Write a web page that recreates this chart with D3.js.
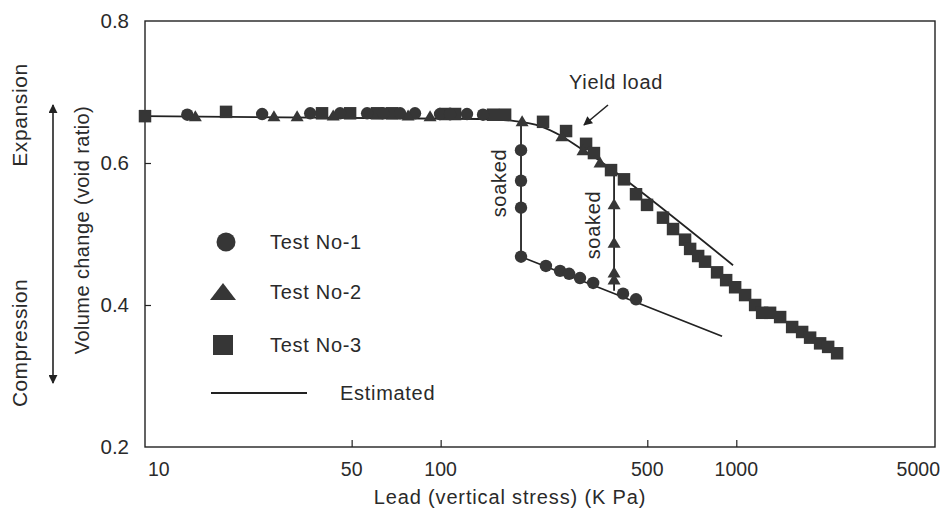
<!DOCTYPE html>
<html><head><meta charset="utf-8">
<script src="https://cdn.jsdelivr.net/npm/d3@7"></script>
<style>
html,body{margin:0;padding:0;background:#fff;}
svg{display:block;}
text{font-family:"Liberation Sans",Arial,Helvetica,sans-serif;fill:#2a2a2a;}
</style></head>
<body>
<svg id="c" width="943" height="512"></svg>
<script>
// ---- data ----
const xTicks = [10, 50, 100, 500, 1000, 5000];
const yTicks = [0.2, 0.4, 0.6, 0.8];

const t1P = [13.9, 24.9, 36.2, 45.7, 56.4, 63.9, 72.9, 81.9, 99.5, 107.6, 122.8, 139.1, 187, 187, 187, 187, 227, 253.5, 272, 296, 328, 414, 458];
const t1E = [0.668, 0.669, 0.670, 0.670, 0.670, 0.670, 0.670, 0.670, 0.669, 0.669, 0.669, 0.668, 0.618, 0.575, 0.537, 0.468, 0.455, 0.448, 0.444, 0.438, 0.431, 0.416, 0.408];

const t2P = [14.8, 27.3, 32.7, 43.3, 77.6, 92.1, 188.6, 257, 303, 346, 386, 386, 386, 386];
const t2E = [0.665, 0.665, 0.665, 0.666, 0.666, 0.665, 0.658, 0.637, 0.617, 0.600, 0.541, 0.487, 0.445, 0.435];

const t3P = [10, 18.8, 39.7, 49.4, 60.9, 68.5, 103.5, 111.9, 150.4, 165.2, 222, 265.6, 310.4, 330, 377, 417, 458, 499, 565, 611, 671, 698, 743, 784, 861, 924, 991, 1071, 1158, 1223, 1301, 1407, 1545, 1670, 1777, 1921, 2045, 2193];
const t3E = [0.666, 0.672, 0.670, 0.670, 0.670, 0.670, 0.669, 0.669, 0.668, 0.668, 0.658, 0.645, 0.627, 0.614, 0.590, 0.577, 0.556, 0.541, 0.523, 0.507, 0.492, 0.479, 0.469, 0.461, 0.446, 0.435, 0.425, 0.414, 0.400, 0.389, 0.389, 0.383, 0.369, 0.362, 0.354, 0.346, 0.341, 0.332];

const estMainP = [10, 136, 178.5, 217, 253.5, 296, 346, 404.6, 975];
const estMainE = [0.666, 0.662, 0.659, 0.652, 0.639, 0.621, 0.603, 0.582, 0.456];
const estSoak1P = [187, 187, 895];
const estSoak1E = [0.659, 0.468, 0.356];
const estSoak2P = [386, 386];
const estSoak2E = [0.420, 0.586];

const legendLabels = ["Test No-1", "Test No-2", "Test No-3", "Estimated"];

// ---- drawing ----
const svg = d3.select("#c");
const L = 145, R = 935, T = 21, B = 447;
const x = d3.scaleLog().domain([10, 4700]).range([L, R]);
const y = d3.scaleLinear().domain([0.2, 0.8]).range([B, T]);
const ink = "#222";
const mark = "#363636";
const FS = 20, LS = 0.7;

function label(sel) { return sel.attr("font-size", FS).attr("letter-spacing", LS); }

// frame
svg.append("rect").attr("x", L).attr("y", T).attr("width", R - L).attr("height", B - T)
  .attr("fill", "none").attr("stroke", ink).attr("stroke-width", 1.4);

// x ticks (inward) and labels
const xAxis = d3.axisBottom(x).tickValues(xTicks.filter(v => v > 10 && v < 4700))
  .tickSize(-7).tickFormat("");
const gx = svg.append("g").attr("transform", `translate(0,${B})`).call(xAxis);
gx.select(".domain").remove();
gx.selectAll("line").attr("stroke", ink).attr("stroke-width", 1.2);

xTicks.forEach(v => {
  let px = x(Math.min(v, 4700)), anchor = "middle";
  if (v === 10) { px = L + 3; anchor = "start"; }
  if (v === 5000) { px = R + 5; anchor = "end"; }
  svg.append("text").attr("x", px).attr("y", 476).attr("text-anchor", anchor)
    .attr("font-size", 19.5).text(v);
});

// y ticks (inward) and labels
const yAxis = d3.axisLeft(y).tickValues(yTicks.filter(v => v > 0.2 && v < 0.8)).tickSize(-6).tickFormat("");
const gy = svg.append("g").attr("transform", `translate(${L},0)`).call(yAxis);
gy.select(".domain").remove();
gy.selectAll("line").attr("stroke", ink).attr("stroke-width", 1.2);
yTicks.forEach(v => {
  svg.append("text").attr("x", 129).attr("y", y(v) + 7).attr("text-anchor", "end")
    .attr("font-size", 20.5).text(v.toFixed(1));
});

// axis titles
label(svg.append("text").attr("x", 510).attr("y", 504).attr("text-anchor", "middle"))
  .attr("letter-spacing", 0.85).text("Lead (vertical stress) (K Pa)");
label(svg.append("text").attr("transform", "translate(89,230) rotate(-90)").attr("text-anchor", "middle"))
  .attr("letter-spacing", 0.4).text("Volume change (void ratio)");
label(svg.append("text").attr("transform", "translate(27,115) rotate(-90)").attr("text-anchor", "middle"))
  .attr("font-size", 21).attr("letter-spacing", 0.6).text("Expansion");
label(svg.append("text").attr("transform", "translate(27,343) rotate(-90)").attr("text-anchor", "middle"))
  .attr("font-size", 21).attr("letter-spacing", 0.4).text("Compression");

// double arrow
const defs = svg.append("defs");
defs.append("marker").attr("id", "ah").attr("viewBox", "0 0 10 10").attr("refX", 9).attr("refY", 5)
  .attr("markerWidth", 9).attr("markerHeight", 9).attr("markerUnits", "userSpaceOnUse").attr("orient", "auto-start-reverse")
  .append("path").attr("d", "M0,0 L10,5 L0,10 Z").attr("fill", ink);
defs.append("marker").attr("id", "ah2").attr("viewBox", "0 0 10 10").attr("refX", 9).attr("refY", 5)
  .attr("markerWidth", 10).attr("markerHeight", 9).attr("markerUnits", "userSpaceOnUse").attr("orient", "auto")
  .append("path").attr("d", "M0,0 L10,5 L0,10 Z").attr("fill", ink);
svg.append("line").attr("x1", 53).attr("x2", 53).attr("y1", 105).attr("y2", 383)
  .attr("stroke", ink).attr("stroke-width", 1.6)
  .attr("marker-start", "url(#ah)").attr("marker-end", "url(#ah)");

// estimated lines
const line = d3.line().x(d => x(d[0])).y(d => y(d[1]));
const zip = (a, b) => a.map((v, i) => [v, b[i]]);
svg.append("path").attr("d", line.curve(d3.curveMonotoneX)(zip(estMainP, estMainE)))
  .attr("fill", "none").attr("stroke", ink).attr("stroke-width", 1.8);
line.curve(d3.curveLinear);
svg.append("path").attr("d", line(zip(estSoak1P, estSoak1E)))
  .attr("fill", "none").attr("stroke", ink).attr("stroke-width", 1.8);
svg.append("path").attr("d", line(zip(estSoak2P, estSoak2E)))
  .attr("fill", "none").attr("stroke", ink).attr("stroke-width", 1.8);

// markers
const circ = d3.symbol().type(d3.symbolCircle).size(Math.PI * 6.2 * 6.2)();
const sq = d3.symbol().type(d3.symbolSquare).size(12.5 * 12.5)();
const triPath = (w, h) => `M0,${-h * 0.6}L${w / 2},${h * 0.4}L${-w / 2},${h * 0.4}Z`;

svg.append("g").selectAll("path").data(zip(t3P, t3E)).join("path")
  .attr("d", sq).attr("transform", d => `translate(${x(d[0])},${y(d[1])})`).attr("fill", mark);
svg.append("g").selectAll("path").data(zip(t1P, t1E)).join("path")
  .attr("d", circ).attr("transform", d => `translate(${x(d[0])},${y(d[1])})`).attr("fill", mark);
svg.append("g").selectAll("path").data(zip(t2P, t2E)).join("path")
  .attr("d", triPath(13, 11)).attr("transform", d => `translate(${x(d[0])},${y(d[1])})`).attr("fill", mark);

// annotations
label(svg.append("text").attr("x", 616).attr("y", 89).attr("text-anchor", "middle")).text("Yield load");
svg.append("line").attr("x1", 608).attr("y1", 105).attr("x2", 584).attr("y2", 125)
  .attr("stroke", ink).attr("stroke-width", 1.6).attr("marker-end", "url(#ah2)");
label(svg.append("text").attr("transform", "translate(506,183) rotate(-90)").attr("text-anchor", "middle")).text("soaked");
label(svg.append("text").attr("transform", "translate(600,225) rotate(-90)").attr("text-anchor", "middle")).text("soaked");

// legend
const lg = svg.append("g");
lg.append("circle").attr("cx", 226).attr("cy", 242).attr("r", 9.5).attr("fill", mark);
lg.append("path").attr("d", `M223,283L236,300L210,300Z`).attr("fill", mark);
lg.append("rect").attr("x", 213).attr("y", 335).attr("width", 20).attr("height", 20).attr("fill", mark);
lg.append("line").attr("x1", 211).attr("x2", 307).attr("y1", 393).attr("y2", 393).attr("stroke", ink).attr("stroke-width", 1.8);
const ly = [242, 292, 345, 393];
const lx = [270, 270, 270, 340];
legendLabels.forEach((t, i) => {
  label(lg.append("text").attr("x", lx[i]).attr("y", ly[i] + 7)).text(t);
});
</script>
</body></html>
